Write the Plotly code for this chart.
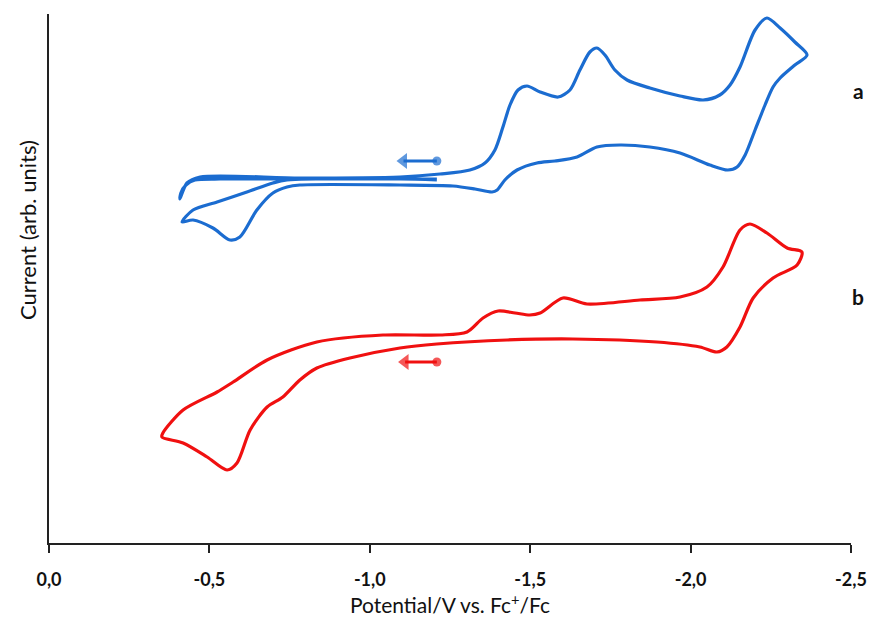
import plotly.graph_objects as go

# Cyclic voltammograms (potential in V vs Fc+/Fc, current in arbitrary units)
pot_a = [-1.209, -1.032, -0.782, -0.533, -0.455, -0.427, -0.411, -0.408,
         -0.430, -0.471, -0.782, -1.094, -1.219, -1.312, -1.359, -1.390, -1.415,
         -1.437, -1.462, -1.490, -1.531, -1.587, -1.624, -1.655, -1.686, -1.708,
         -1.733, -1.764, -1.802, -1.873, -1.967, -2.039, -2.091, -2.123, -2.154,
         -2.201, -2.238, -2.279, -2.325, -2.363,
         -2.325, -2.279, -2.257, -2.232, -2.201, -2.170, -2.145, -2.116, -2.060,
         -1.967, -1.873, -1.780, -1.708, -1.646, -1.577, -1.521, -1.459, -1.421,
         -1.397, -1.381, -1.328, -1.259, -1.094, -0.782, -0.742, -0.698, -0.648,
         -0.595, -0.564, -0.511, -0.449, -0.415,
         -0.449, -0.524, -0.617, -0.698, -0.742, -1.094, -1.209]
cur_a = [3.64, 3.64, 3.64, 3.64, 3.63, 3.58, 3.50, 3.44,
         3.60, 3.66, 3.65, 3.66, 3.69, 3.73, 3.80, 3.93, 4.16,
         4.38, 4.53, 4.57, 4.51, 4.46, 4.53, 4.73, 4.91, 4.95,
         4.88, 4.73, 4.63, 4.55, 4.47, 4.43, 4.48, 4.58, 4.76,
         5.13, 5.25, 5.15, 5.01, 4.88,
         4.78, 4.65, 4.56, 4.38, 4.13, 3.88, 3.76, 3.73, 3.78,
         3.90, 3.96, 3.98, 3.96, 3.86, 3.82, 3.80, 3.73, 3.63,
         3.53, 3.51, 3.54, 3.57, 3.58, 3.58, 3.56, 3.50, 3.33,
         3.06, 3.03, 3.15, 3.23, 3.21,
         3.33, 3.41, 3.51, 3.60, 3.63, 3.64, 3.63]

pot_b = [-1.209, -1.094, -0.938, -0.835, -0.782, -0.729, -0.680, -0.627,
         -0.586, -0.555, -0.493, -0.418, -0.352, -0.355, -0.418, -0.524, -0.574,
         -0.680, -0.835, -1.041, -1.219, -1.303, -1.353, -1.400, -1.453, -1.499,
         -1.531, -1.602, -1.677, -1.842, -1.967, -2.051, -2.101, -2.154, -2.185,
         -2.238, -2.301, -2.347, -2.332, -2.257, -2.195, -2.154, -2.113, -2.082,
         -2.029, -1.895, -1.633, -1.428, -1.209]
cur_b = [1.99, 1.95, 1.85, 1.75, 1.63, 1.46, 1.36, 1.13,
         0.80, 0.73, 0.86, 1.00, 1.06, 1.10, 1.33, 1.51, 1.61,
         1.83, 2.01, 2.08, 2.08, 2.11, 2.25, 2.32, 2.30, 2.28,
         2.30, 2.45, 2.39, 2.43, 2.46, 2.56, 2.76, 3.13, 3.19,
         3.10, 2.95, 2.91, 2.78, 2.65, 2.45, 2.16, 1.96, 1.91,
         1.96, 2.01, 2.04, 2.03, 1.99]

# scan-direction arrows: start potential (dot) -> head potential, at a current level
arrow_a_pot = [-1.209, -1.105]
arrow_a_cur = [3.82, 3.82]
arrow_b_pot = [-1.209, -1.110]
arrow_b_cur = [1.81, 1.81]

tick_vals = [0.0, -0.5, -1.0, -1.5, -2.0, -2.5]
tick_text = ["0,0", "-0,5", "-1,0", "-1,5", "-2,0", "-2,5"]

blue = "#1b6cd0"
red = "#f01010"

fig = go.Figure()
fig.add_trace(go.Scatter(x=pot_a, y=cur_a, mode="lines",
                         line=dict(color=blue, width=3.2, shape="spline", smoothing=0.8),
                         showlegend=False, hoverinfo="skip"))
fig.add_trace(go.Scatter(x=pot_b, y=cur_b, mode="lines",
                         line=dict(color=red, width=3.2, shape="spline", smoothing=0.8),
                         showlegend=False, hoverinfo="skip"))

for px, py, col in ((arrow_a_pot, arrow_a_cur, blue), (arrow_b_pot, arrow_b_cur, red)):
    fig.add_trace(go.Scatter(x=px, y=py, mode="lines+markers",
                             line=dict(color=col, width=3),
                             marker=dict(color=col, size=[9, 14],
                                         symbol=["circle", "triangle-left"],
                                         line=dict(width=0)),
                             showlegend=False, hoverinfo="skip"))

fig.add_annotation(x=1.019, y=0.882, xref="paper", yref="paper", text="<b>a</b>",
                   showarrow=False, font=dict(family="Lato", size=21, color="#111"))
fig.add_annotation(x=1.019, y=0.466, xref="paper", yref="paper", text="<b>b</b>",
                   showarrow=False, font=dict(family="Lato", size=21, color="#111"))
fig.add_annotation(x=-0.026, y=0.592, xref="paper", yref="paper",
                   text="Current (arb. units)", textangle=-90, showarrow=False,
                   xanchor="center", yanchor="middle",
                   font=dict(family="Lato", size=22, color="#111"))

fig.update_layout(
    width=874, height=625,
    margin=dict(l=49, r=23, t=14, b=82),
    plot_bgcolor="white", paper_bgcolor="white",
    xaxis=dict(range=[0, -2.5], tickvals=tick_vals, ticktext=tick_text,
               automargin=False,
               showgrid=False, zeroline=False, showline=True, linecolor="#222",
               linewidth=2, ticks="outside", ticklen=8, tickwidth=2, tickcolor="#222",
               ticklabelstandoff=11,
               tickfont=dict(family="Lato", size=18, color="#111", weight="bold"),
               title=dict(text="Potential/V vs. Fc<sup>+</sup>/Fc", standoff=6,
                          font=dict(family="Lato", size=21, color="#111"))),
    yaxis=dict(range=[0, 5.29], automargin=False, showgrid=False, zeroline=False,
               showline=True, linecolor="#222", linewidth=2, showticklabels=False,
               ticks=""),
)

fig.write_html("out.html", config={"displayModeBar": False},
               post_script="document.body.style.margin='0';document.body.style.padding='0';")
